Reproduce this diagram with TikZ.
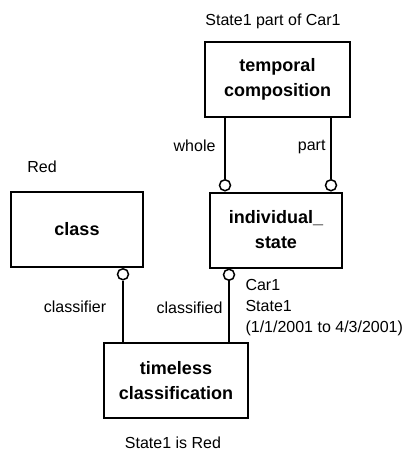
\documentclass[tikz,border=0pt]{standalone}
\usepackage{fontspec}
\setmainfont{Liberation Sans}
\usetikzlibrary{positioning}

\begin{document}
\begin{tikzpicture}[x=1pt, y=-1pt,
  every node/.style={font=\fontsize{16}{21}\selectfont},
  entity/.style={draw, line width=2pt, minimum width=132pt, minimum height=75pt,
    align=center, font=\bfseries\fontsize{18}{25}\selectfont},
  link/.style={line width=2.8pt},
  role/.style={circle, draw, line width=1.5pt, fill=white, inner sep=0pt, minimum size=11pt}]
  \useasboundingbox (0,0) rectangle (415,452);
  % entity types
  \node[entity, minimum width=145pt] (tc) at (277.5,79.5) {temporal\\composition};
  \node[entity] (ist) at (276,230) {individual\_\\state};
  \node[entity] (cls) at (77,229.5) {class};
  \node[entity, minimum width=144pt] (tl) at (176,380.5) {timeless\\classification};
  % role ends
  \node[role, anchor=south] (rwhole) at (225,0 |- ist.north) {};
  \node[role, anchor=south] (rpart) at (331,0 |- ist.north) {};
  \node[role, anchor=north] (rclass) at (123,0 |- cls.south) {};
  \node[role, anchor=north] (rstate) at (229,0 |- ist.south) {};
  \draw[link] (tc.south -| rwhole) -- (rwhole.north);
  \draw[link] (tc.south -| rpart) -- (rpart.north);
  \draw[link] (rclass.south) -- (tl.north -| rclass);
  \draw[link] (rstate.south) -- (tl.north -| rstate);
  % labels
  \node (lbltc) at (273,21) {State1 part of Car1};
  \node[anchor=east] (lblwhole) at (219,146) {whole};
  \node[anchor=east] (lblpart) at (329,147) {part};
  \node (lblred) at (42,167) {Red};
  \node (lblclassifier) at (75,307) {classifier};
  \node[anchor=east] (lblclassified) at (226,308) {classified};
  \node[anchor=north west, align=left] (lblcar) at (242,276) {Car1\\State1\\(1/1/2001 to 4/3/2001)};
  \node (lbltl) at (173,443) {State1 is Red};
\end{tikzpicture}
\end{document}
